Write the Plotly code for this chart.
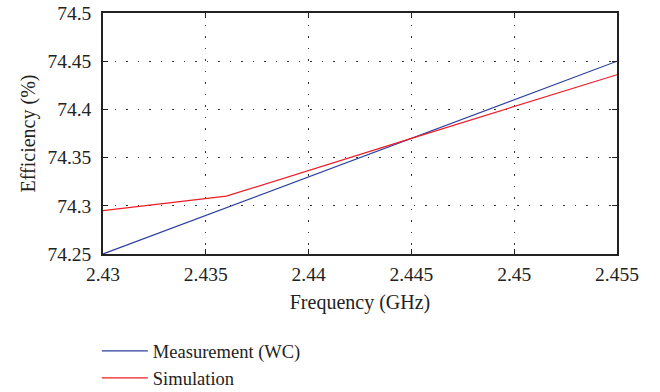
import plotly.graph_objects as go

freq = [2.430, 2.436, 2.445, 2.455]
measurement = [74.25, 74.298, 74.37, 74.45]
simulation = [74.295, 74.31, 74.37, 74.436]

x_ticks = [2.43, 2.435, 2.44, 2.445, 2.45, 2.455]
x_labels = ["2.43", "2.435", "2.44", "2.445", "2.45", "2.455"]
y_ticks = [74.25, 74.3, 74.35, 74.4, 74.45, 74.5]
y_labels = ["74.25", "74.3", "74.35", "74.4", "74.45", "74.5"]

FONT = "'Liberation Serif', 'DejaVu Serif', serif"

fig = go.Figure()
fig.add_trace(go.Scatter(x=freq, y=measurement, mode="lines", name="Measurement (WC)",
                         line=dict(color="#2b3f9e", width=1.2), legendgroup="a"))
fig.add_trace(go.Scatter(x=freq, y=simulation, mode="lines", name="Simulation",
                         line=dict(color="#ee1c25", width=1.2), legendgroup="b"))

axis_common = dict(
    showline=True, linecolor="#222", linewidth=1.5, mirror="allticks",
    ticks="inside", ticklen=5, tickcolor="#222", tickwidth=1,
    showgrid=True, gridcolor="#333", gridwidth=1, griddash="1.5px,10px",
    zeroline=False, tickfont=dict(family=FONT, size=19.5, color="#222"),
    automargin=False,
)

fig.update_xaxes(range=[2.43, 2.455], tickvals=x_ticks, ticktext=x_labels,
                 title=dict(text="Frequency (GHz)", font=dict(family=FONT, size=20, color="#222"), standoff=11),
                 ticklabelstandoff=2,
                 **axis_common)
fig.update_yaxes(range=[74.25, 74.5], tickvals=y_ticks, ticktext=y_labels,
                 title=dict(text="Efficiency (%)", font=dict(family=FONT, size=20, color="#222"), standoff=6),
                 ticklabelstandoff=6,
                 **axis_common)

fig.update_layout(
    width=660, height=392,
    margin=dict(l=103, r=43, t=13, b=138, autoexpand=False),
    plot_bgcolor="white", paper_bgcolor="white",
    showlegend=True,
    legend=dict(x=-0.012, xanchor="left", y=-0.325, yanchor="top",
                font=dict(family=FONT, size=18.5, color="#222"),
                bgcolor="rgba(0,0,0,0)", tracegroupgap=0, itemwidth=46),
)

fig.write_html("out.html")
